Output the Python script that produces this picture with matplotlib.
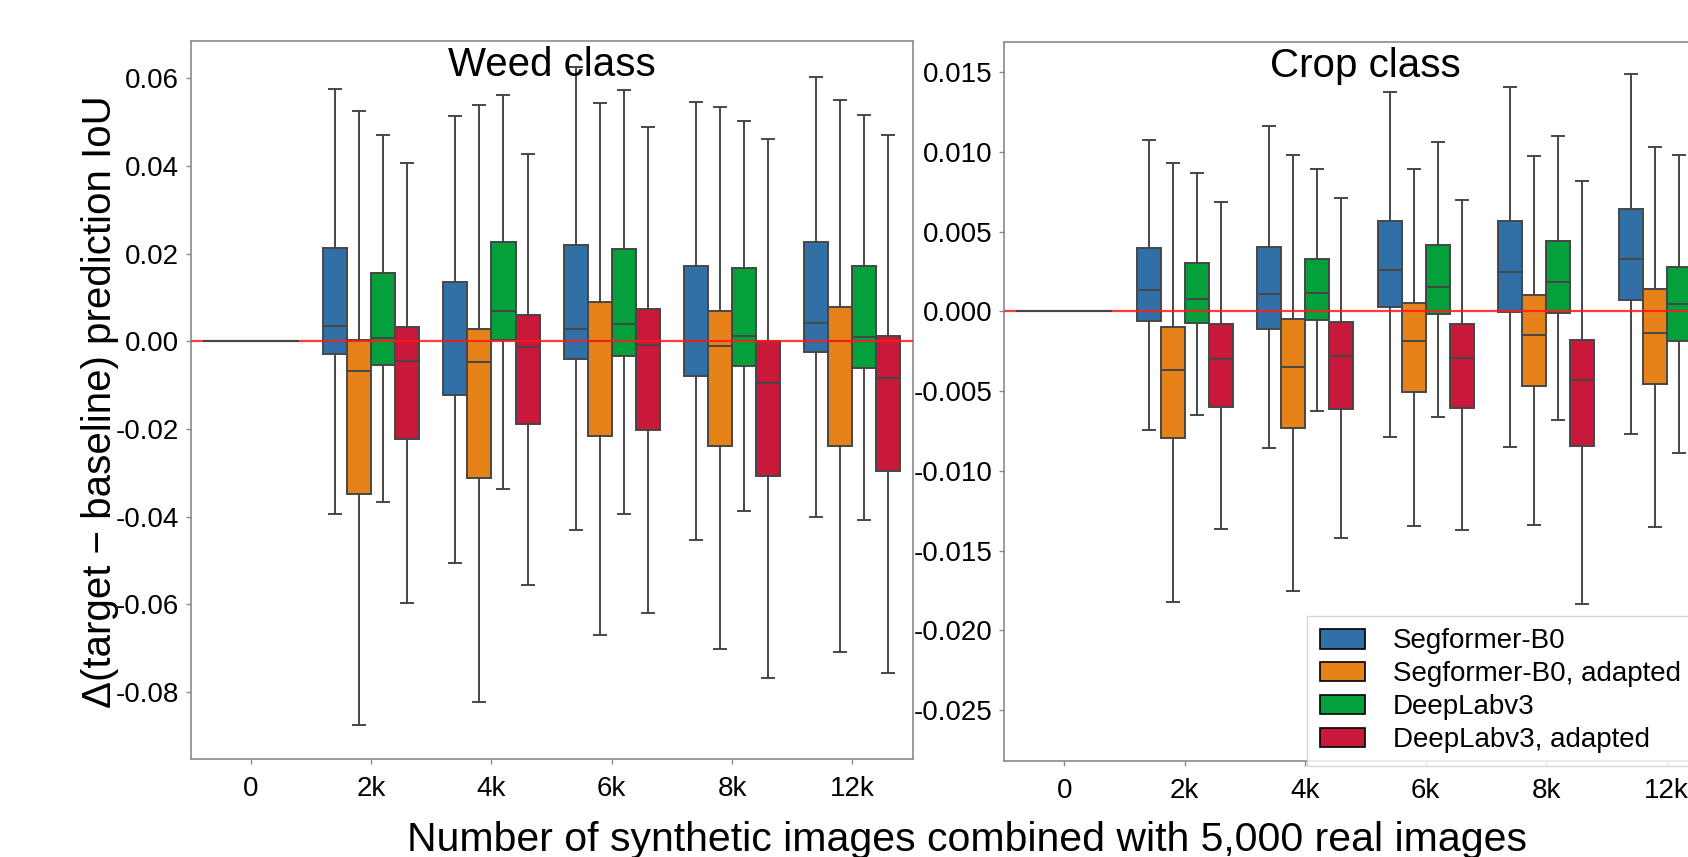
import matplotlib
matplotlib.use("Agg")
import matplotlib.pyplot as plt
from matplotlib.patches import Patch
import numpy as np

plt.rcParams['font.family'] = ['Liberation Sans', 'DejaVu Sans']
plt.rcParams['axes.unicode_minus'] = False

# ---------------- data ----------------
groups = ['0', '2k', '4k', '6k', '8k', '12k']
models = ['Segformer-B0', 'Segformer-B0, adapted', 'DeepLabv3', 'DeepLabv3, adapted']
colors = ['#3170a7', '#e6821a', '#04a03c', '#c8193a']

# Weed class (rows = models, cols = groups)
weed_whishi = [[0, 0.0576, 0.0515, 0.0627, 0.0545, 0.0603],
               [0, 0.0526, 0.0539, 0.0543, 0.0534, 0.0550],
               [0, 0.0470, 0.0562, 0.0573, 0.0502, 0.0517],
               [0, 0.0408, 0.0427, 0.0488, 0.0462, 0.0470]]
weed_q3 = [[0, 0.0213, 0.0136, 0.0220, 0.0173, 0.0226],
           [0, 0.0003, 0.0028, 0.0089, 0.0070, 0.0079],
           [0, 0.0157, 0.0226, 0.0210, 0.0168, 0.0171],
           [0, 0.0032, 0.0059, 0.0073, 0.0000, 0.0013]]
weed_med = [[0, 0.0035, 0.0000, 0.0029, 0.0000, 0.0041],
            [0, -0.0067, -0.0046, 0.0000, -0.0010, 0.0000],
            [0, 0.0007, 0.0070, 0.0039, 0.0013, 0.0010],
            [0, -0.0044, -0.0014, -0.0009, -0.0095, -0.0083]]
weed_q1 = [[0, -0.0029, -0.0122, -0.0040, -0.0079, -0.0025],
           [0, -0.0349, -0.0312, -0.0216, -0.0239, -0.0239],
           [0, -0.0054, 0.0003, -0.0034, -0.0057, -0.0060],
           [0, -0.0222, -0.0189, -0.0203, -0.0308, -0.0295]]
weed_whislo = [[0, -0.0393, -0.0505, -0.0430, -0.0454, -0.0400],
               [0, -0.0875, -0.0822, -0.0671, -0.0703, -0.0709],
               [0, -0.0367, -0.0337, -0.0395, -0.0386, -0.0407],
               [0, -0.0597, -0.0557, -0.0619, -0.0768, -0.0757]]

# Crop class
crop_whishi = [[0, 0.01077, 0.01165, 0.01376, 0.01405, 0.01487],
               [0, 0.00931, 0.00979, 0.00895, 0.00975, 0.01033],
               [0, 0.00868, 0.00895, 0.01060, 0.01102, 0.00981],
               [0, 0.00688, 0.00709, 0.00699, 0.00816, 0.00750]]
crop_q3 = [[0, 0.00400, 0.00406, 0.00567, 0.00567, 0.00642],
           [0, -0.00096, -0.00046, 0.00056, 0.00105, 0.00140],
           [0, 0.00304, 0.00331, 0.00416, 0.00442, 0.00282],
           [0, -0.00079, -0.00065, -0.00079, -0.00178, -0.00100]]
crop_med = [[0, 0.00136, 0.00107, 0.00260, 0.00247, 0.00331],
            [0, -0.00364, -0.00345, -0.00186, -0.00150, -0.00138],
            [0, 0.00078, 0.00113, 0.00155, 0.00182, 0.00044],
            [0, -0.00297, -0.00276, -0.00289, -0.00427, -0.00330]]
crop_q1 = [[0, -0.00058, -0.00109, 0.00027, -0.00004, 0.00075],
           [0, -0.00792, -0.00732, -0.00504, -0.00468, -0.00455],
           [0, -0.00075, -0.00054, -0.00017, -0.00010, -0.00186],
           [0, -0.00598, -0.00610, -0.00604, -0.00843, -0.00650]]
crop_whislo = [[0, -0.00744, -0.00855, -0.00784, -0.00847, -0.00767],
               [0, -0.01820, -0.01752, -0.01343, -0.01336, -0.01349],
               [0, -0.00646, -0.00621, -0.00660, -0.00679, -0.00885],
               [0, -0.01363, -0.01422, -0.01372, -0.01832, -0.01400]]

weed_yticks = [-0.08, -0.06, -0.04, -0.02, 0.00, 0.02, 0.04, 0.06]
crop_yticks = [-0.025, -0.020, -0.015, -0.010, -0.005, 0.000, 0.005, 0.010, 0.015]

# ---------------- figure ----------------
W, H = 1688, 857
fig = plt.figure(figsize=(W / 100, H / 100), dpi=100)

def fx(px):
    return px / W

def fy(py):
    return 1 - py / H

ax1 = fig.add_axes([fx(190.7), fy(759), fx(912.5) - fx(190.7), fy(40.7) - fy(759)])
ax2 = fig.add_axes([fx(1004), fy(760.7), fx(1727) - fx(1004), fy(42) - fy(760.7)])

edge = '#464646'
spine_col = '#8a8a8a'
box_w = 0.2


def draw_panel(ax, whishi, q3, med, q1, whislo, ylim, yticks, fmt, title):
    ax.axhline(0, color='#ff1a1a', lw=1.6, alpha=0.85, zorder=4)
    for h in range(len(models)):
        for g in range(len(groups)):
            st = [{'med': med[h][g], 'q1': q1[h][g], 'q3': q3[h][g],
                   'whislo': whislo[h][g], 'whishi': whishi[h][g], 'fliers': []}]
            pos = g + (h - 1.5) * box_w
            z = 5 if g == 0 else 2
            ax.bxp(st, positions=[pos], widths=box_w, capwidths=box_w / 2,
                   patch_artist=True, showfliers=False, manage_ticks=False,
                   boxprops=dict(facecolor=colors[h], edgecolor=edge, linewidth=1.4),
                   medianprops=dict(color=edge, linewidth=1.4),
                   whiskerprops=dict(color=edge, linewidth=1.4),
                   capprops=dict(color=edge, linewidth=1.4),
                   zorder=z)
    ax.set_xlim(-0.5, len(groups) - 0.5)
    ax.set_ylim(*ylim)
    ax.set_xticks(range(len(groups)))
    ax.set_xticklabels(groups)
    ax.set_yticks(yticks)
    ax.set_yticklabels([fmt % v for v in yticks])
    ax.tick_params(axis='both', labelsize=20, length=3.5, width=1.0,
                   color=spine_col, labelcolor='black')
    ax.tick_params(axis='y', pad=5)
    ax.tick_params(axis='x', pad=9)
    for s in ax.spines.values():
        s.set_color(spine_col)
        s.set_linewidth(1.2)
    ax.text(2.5, 0.951, title, transform=ax.get_xaxis_transform(),
            ha='center', va='baseline', fontsize=29, zorder=6)


draw_panel(ax1, weed_whishi, weed_q3, weed_med, weed_q1, weed_whislo,
           (-0.0953, 0.0686), weed_yticks, '%.2f', 'Weed class')
draw_panel(ax2, crop_whishi, crop_q3, crop_med, crop_q1, crop_whislo,
           (-0.02817, 0.0169), crop_yticks, '%.3f', 'Crop class')

handles = [Patch(facecolor=c, edgecolor='black', linewidth=1.2) for c in colors]
leg = ax2.legend(handles, models, loc='upper left',
                 bbox_to_anchor=(fx(1307), fy(616)), bbox_transform=fig.transFigure,
                 borderaxespad=0, fontsize=20, frameon=True, fancybox=False,
                 edgecolor='#cccccc', handlelength=1.65, handleheight=0.7,
                 handletextpad=1.0, labelspacing=0.25, borderpad=0.45)
leg.get_frame().set_linewidth(1.0)

fig.text(fx(100), fy(402), 'Δ(target − baseline) prediction IoU', rotation=90,
         ha='center', va='center', fontsize=29)
fig.text(fx(967), fy(851), 'Number of synthetic images combined with 5,000 real images',
         ha='center', va='baseline', fontsize=29.5)

fig.savefig('out.png', dpi=100)
